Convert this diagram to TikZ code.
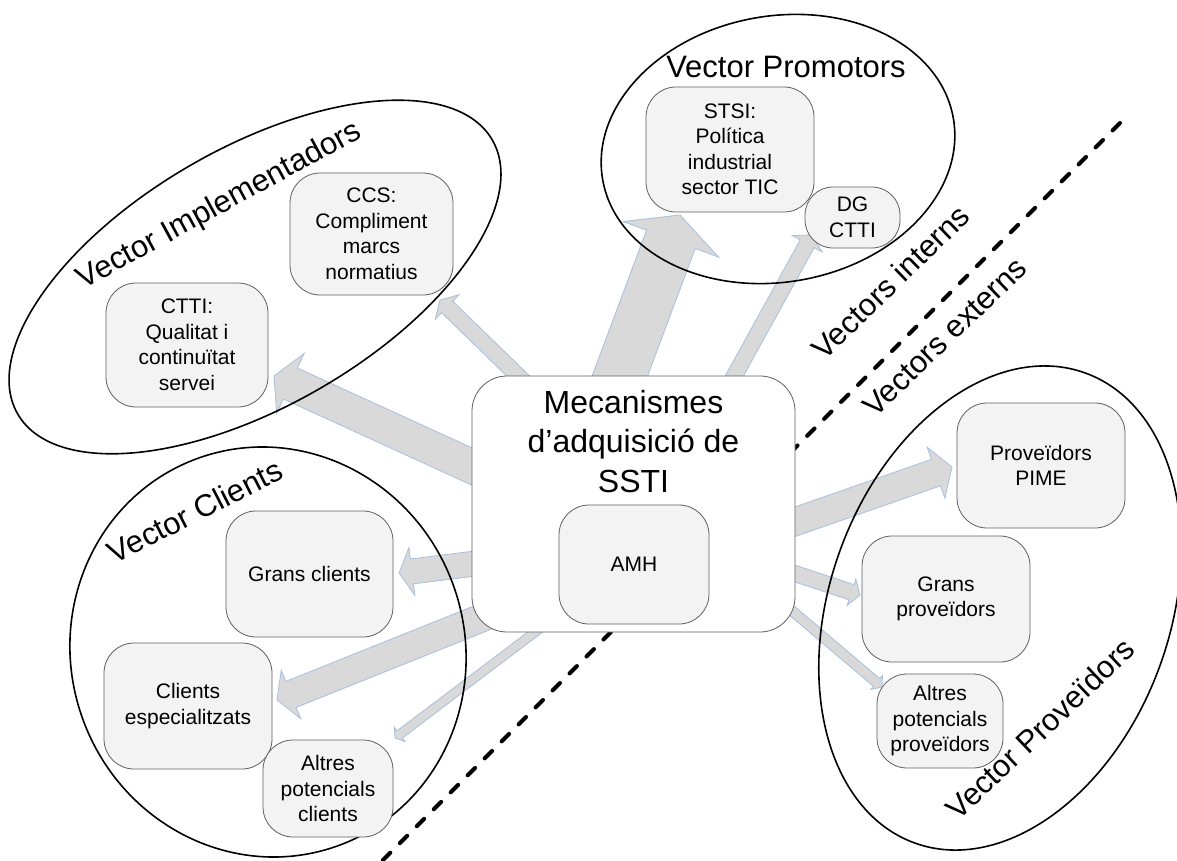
\documentclass[tikz,border=0pt]{standalone}
\usepackage{fontspec}
\setmainfont{Liberation Sans}
\usetikzlibrary{calc,shapes.geometric}

\definecolor{boxfill}{HTML}{F3F3F3}
\definecolor{boxline}{HTML}{5F5F5F}
\definecolor{flowfill}{HTML}{D9D9D9}
\definecolor{flowline}{HTML}{A7BFDF}

% Block arrow: #1 start, #2 tip, #3 half shaft width, #4 half head width, #5 head length
\newcommand{\blockarrow}[5]{%
  \coordinate (ba-h) at ($(#2)!#5!(#1)$);
  \filldraw[flow] ($(#1)!#3!90:(#2)$) -- ($(ba-h)!#3!90:(#2)$) -- ($(ba-h)!#4!90:(#2)$)
    -- (#2) -- ($(ba-h)!#4!-90:(#2)$) -- ($(ba-h)!#3!-90:(#2)$) -- ($(#1)!#3!-90:(#2)$) -- cycle;
}

\begin{document}
\begin{tikzpicture}[x=1pt,y=-1pt,
  flow/.style={fill=flowfill, draw=flowline, line width=0.8pt, line join=miter},
  group/.style={ellipse, draw=black, line width=1.6pt, inner sep=0pt},
  actor/.style={draw=boxline, fill=boxfill, line width=0.8pt, rounded corners=30pt,
    align=center, inner sep=0pt, font=\fontsize{21}{25.5}\selectfont},
  hubbox/.style={draw=boxline, fill=white, line width=0.8pt, rounded corners=35pt, inner sep=0pt},
  grouptitle/.style={inner sep=0pt, font=\fontsize{31}{37}\selectfont},
  divider/.style={line width=4pt, dash pattern=on 10.5pt off 13.5pt, line cap=round}
]
\useasboundingbox (0,0) rectangle (1177,861);

% boundary between internal and external vectors
\coordinate (div-a) at (1120,123);
\coordinate (div-b) at (379,864);
\draw[divider] (div-a) -- (div-b);

% flows out of the acquisition mechanisms
\coordinate (s-ctti) at (508,483);  \coordinate (t-ctti) at (274,376);
\coordinate (s-ccs)  at (547,404);  \coordinate (t-ccs)  at (440,300);
\coordinate (s-stsi) at (606,413);  \coordinate (t-stsi) at (680,215);
\coordinate (s-dg)   at (715,411);  \coordinate (t-dg)   at (812,235);
\coordinate (s-gc)   at (512,559);  \coordinate (t-gc)   at (399,573);
\coordinate (s-ce)   at (519,603);  \coordinate (t-ce)   at (277,700);
\coordinate (s-apc)  at (567,608);  \coordinate (t-apc)  at (395,738);
\coordinate (s-pime) at (757,535);  \coordinate (t-pime) at (952,467);
\coordinate (s-gp)   at (757,561);  \coordinate (t-gp)   at (860,595);
\coordinate (s-app)  at (765,588);  \coordinate (t-app)  at (882,687);

\blockarrow{s-ctti}{t-ctti}{17pt}{33pt}{18pt}
\blockarrow{s-ccs}{t-ccs}{8pt}{17pt}{10pt}
\blockarrow{s-stsi}{t-stsi}{26pt}{51pt}{26pt}
\blockarrow{s-dg}{t-dg}{8pt}{17pt}{10pt}
\blockarrow{s-gc}{t-gc}{12.5pt}{24pt}{13pt}
\blockarrow{s-ce}{t-ce}{14pt}{26pt}{15pt}
\blockarrow{s-apc}{t-apc}{4.5pt}{9pt}{6pt}
\blockarrow{s-pime}{t-pime}{14pt}{27pt}{17pt}
\blockarrow{s-gp}{t-gp}{8pt}{14pt}{9pt}
\blockarrow{s-app}{t-app}{5pt}{9pt}{7pt}

% vector groups
\node[group, minimum width=548, minimum height=258, rotate=30] (g-impl) at (255,277) {};
\node[group, minimum width=356, minimum height=266, rotate=10] (g-prom) at (778,149) {};
\node[group, minimum width=394, minimum height=412, rotate=20] (g-cli) at (268,652) {};
\node[group, minimum width=500, minimum height=340, rotate=70] (g-prov) at (1000,608) {};

% central mechanism
\node[hubbox, minimum width=323, minimum height=256] (hub) at (633.5,504) {};
\node[inner sep=0pt, anchor=north, align=center, font=\fontsize{32}{39.5}\selectfont]
  (hub-text) at (633.5,390) {Mecanismes\\d’adquisició de\\SSTI};
\node[actor, minimum width=150, minimum height=119] (amh) at (634,564.5) {AMH};

% actors
\node[actor, minimum width=168, minimum height=125] (stsi) at (730,149.5) {STSI:\\Política\\industrial\\sector TIC};
\node[actor, minimum width=95, minimum height=61, rounded corners=28pt] (dg) at (852.5,217.5) {DG\\CTTI};
\node[actor, minimum width=163, minimum height=122] (ccs) at (371.5,234) {CCS:\\Compliment\\marcs\\normatius};
\node[actor, minimum width=162, minimum height=124] (ctti) at (187,345) {CTTI:\\Qualitat i\\continuïtat\\servei};
\node[actor, minimum width=167, minimum height=126] (gc) at (309.5,574) {Grans clients};
\node[actor, minimum width=168, minimum height=126] (ce) at (188,706) {Clients\\especialitzats};
\node[actor, minimum width=130, minimum height=97] (apc) at (328,788.5) {Altres\\potencials\\clients};
\node[actor, minimum width=168, minimum height=125] (pime) at (1041,465.5) {Proveïdors\\PIME};
\node[actor, minimum width=168, minimum height=126] (gp) at (946,599) {Grans\\proveïdors};
\node[actor, minimum width=126, minimum height=94] (app) at (940,721) {Altres\\potencials\\proveïdors};

% group titles
\node[grouptitle, anchor=base, rotate=28.6] (t-impl) at (223.5,213) {Vector Implementadors};
\node[grouptitle, anchor=base] (t-prom) at (786,78) {Vector Promotors};
\node[grouptitle, anchor=base, rotate=27] (t-cli) at (200,521) {Vector Clients};
\node[grouptitle, anchor=base, rotate=43.6] (t-prov) at (1047.5,737) {Vector Proveïdors};
\node[grouptitle, anchor=base, rotate=44] (t-int) at (898,290) {Vectors interns};
\node[grouptitle, anchor=base, rotate=44] (t-ext) at (952,344.5) {Vectors externs};
\end{tikzpicture}
\end{document}
